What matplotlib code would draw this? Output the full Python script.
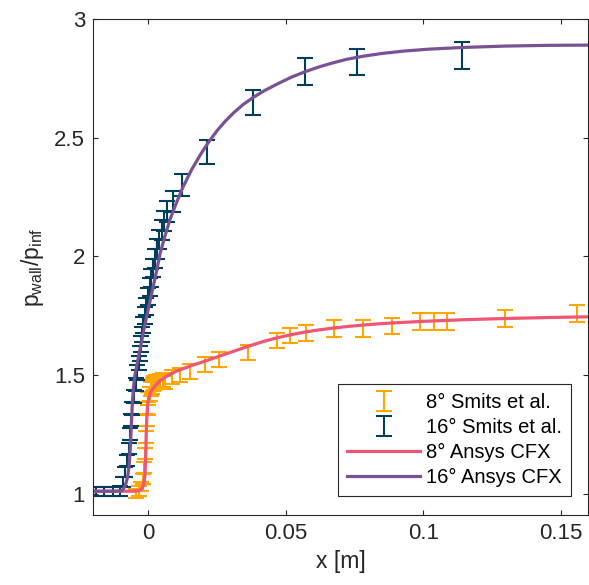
import matplotlib
matplotlib.use("Agg")
import matplotlib.pyplot as plt
from matplotlib.ticker import FormatStrFormatter

plt.rcParams['font.family'] = ['Liberation Sans', 'DejaVu Sans']
plt.rcParams['mathtext.fontset'] = 'custom'
plt.rcParams['mathtext.rm'] = 'Liberation Sans'
plt.rcParams['mathtext.it'] = 'Liberation Sans:italic'

# 8 deg experimental data (Smits et al.)
x8 = [-0.0045, -0.0035, -0.0027, -0.0021, -0.0016, -0.0012, -0.0009, -0.0006, -0.0003, 0.0000,
      0.0004, 0.0008, 0.0012, 0.0017, 0.0022, 0.0028, 0.0035, 0.0043, 0.0052, 0.0060,
      0.0085, 0.0115, 0.0153, 0.0205, 0.0255, 0.0361, 0.0466, 0.0516, 0.0572, 0.0675,
      0.0779, 0.0885, 0.0988, 0.1037, 0.1087, 0.1298, 0.1559]
y8 = [1.000, 1.010, 1.030, 1.060, 1.110, 1.170, 1.240, 1.310, 1.360, 1.400,
      1.420, 1.440, 1.450, 1.460, 1.465, 1.470, 1.470, 1.475, 1.480, 1.468,
      1.490, 1.500, 1.515, 1.545, 1.565, 1.595, 1.645, 1.667, 1.677, 1.696,
      1.696, 1.707, 1.726, 1.726, 1.726, 1.737, 1.759]
e8 = [0.020, 0.020, 0.021, 0.021, 0.022, 0.023, 0.025, 0.026, 0.027, 0.028,
      0.028, 0.029, 0.029, 0.029, 0.029, 0.029, 0.029, 0.030, 0.030, 0.029,
      0.030, 0.030, 0.030, 0.031, 0.031, 0.032, 0.033, 0.033, 0.034, 0.034,
      0.034, 0.034, 0.035, 0.035, 0.035, 0.035, 0.035]

# 16 deg experimental data (Smits et al.)
x16 = [-0.0190, -0.0160, -0.0130, -0.0105, -0.0092, -0.0085, -0.0078, -0.0071, -0.0066, -0.0062,
       -0.0058, -0.0052, -0.0046, -0.0040, -0.0035, -0.0030, -0.0026, -0.0022, -0.0018, -0.0013,
       -0.0008, -0.0002, 0.0004, 0.0010, 0.0017, 0.0024, 0.0031, 0.0039, 0.0048, 0.0058,
       0.0069, 0.0091, 0.0121, 0.0213, 0.0379, 0.0569, 0.0760, 0.1141]
y16 = [1.008, 1.008, 1.008, 1.010, 1.050, 1.090, 1.140, 1.190, 1.250, 1.310,
       1.360, 1.410, 1.460, 1.510, 1.550, 1.590, 1.630, 1.670, 1.710, 1.750,
       1.790, 1.830, 1.870, 1.910, 1.950, 1.990, 2.030, 2.070, 2.110, 2.150,
       2.190, 2.230, 2.300, 2.440, 2.648, 2.778, 2.819, 2.848]
e16 = [0.020, 0.020, 0.020, 0.020, 0.021, 0.022, 0.023, 0.024, 0.025, 0.026,
       0.027, 0.028, 0.029, 0.030, 0.031, 0.032, 0.033, 0.033, 0.034, 0.035,
       0.036, 0.037, 0.037, 0.038, 0.039, 0.040, 0.041, 0.041, 0.042, 0.043,
       0.044, 0.045, 0.046, 0.049, 0.053, 0.056, 0.056, 0.057]

# CFD results (Ansys CFX)
x8c = [-0.020, -0.006, -0.0035, -0.0025, -0.0018, -0.0013, -0.0010, -0.0008, -0.0006, -0.0003,
       0.0001, 0.0007, 0.0015, 0.0025, 0.0044, 0.0070, 0.0100, 0.0153, 0.0205, 0.0255,
       0.0310, 0.0361, 0.0415, 0.0466, 0.0520, 0.0570, 0.0620, 0.0675, 0.0730, 0.0779,
       0.0830, 0.0885, 0.1000, 0.1150, 0.1300, 0.1450, 0.1600]
y8c = [1.010, 1.010, 1.012, 1.018, 1.035, 1.070, 1.150, 1.250, 1.320, 1.370,
       1.400, 1.425, 1.440, 1.455, 1.478, 1.497, 1.515, 1.538, 1.558, 1.578,
       1.600, 1.620, 1.640, 1.656, 1.670, 1.681, 1.690, 1.698, 1.705, 1.710,
       1.715, 1.719, 1.726, 1.733, 1.738, 1.742, 1.745]

x16c = [-0.020, -0.012, -0.0098, -0.0092, -0.0086, -0.0080, -0.0075, -0.0070, -0.0066, -0.0062,
        -0.0058, -0.0054, -0.0049, -0.0043, -0.0030, -0.0015, 0.0000, 0.0015, 0.0030, 0.0042,
        0.0060, 0.0080, 0.0100, 0.0125, 0.0157, 0.0190, 0.0218, 0.0250, 0.0280, 0.0310,
        0.0345, 0.0379, 0.0420, 0.0470, 0.0520, 0.0570, 0.0620, 0.0670, 0.0720, 0.0780,
        0.0850, 0.0930, 0.1020, 0.1140, 0.1300, 0.1450, 0.1600]
y16c = [1.010, 1.010, 1.012, 1.018, 1.030, 1.050, 1.075, 1.120, 1.190, 1.290,
        1.390, 1.450, 1.500, 1.535, 1.610, 1.700, 1.780, 1.860, 1.940, 2.010,
        2.085, 2.160, 2.220, 2.290, 2.365, 2.430, 2.480, 2.530, 2.570, 2.605,
        2.640, 2.668, 2.697, 2.727, 2.755, 2.778, 2.798, 2.815, 2.830, 2.843,
        2.855, 2.865, 2.873, 2.880, 2.886, 2.889, 2.890]

labels = ['8° Smits et al.', '16° Smits et al.', '8° Ansys CFX', '16° Ansys CFX']
c_or, c_bl, c_pk, c_pu = '#ffa600', '#003f5c', '#ef5675', '#7a5195'

fig = plt.figure(figsize=(5.89, 5.85), dpi=100)
ax = fig.add_axes([0.1586, 0.1197, 0.8404, 0.8478])

h1 = ax.errorbar(x8, y8, yerr=e8, fmt='none', ecolor=c_or, elinewidth=1.5,
                 capsize=5.5, capthick=1.5, label=labels[0])
h2 = ax.errorbar(x16, y16, yerr=e16, fmt='none', ecolor=c_bl, elinewidth=1.5,
                 capsize=5.5, capthick=1.5, label=labels[1])
h3, = ax.plot(x8c, y8c, color=c_pk, lw=2.3, label=labels[2], solid_joinstyle='round')
h4, = ax.plot(x16c, y16c, color=c_pu, lw=2.3, label=labels[3], solid_joinstyle='round')

ax.set_xlim(-0.02, 0.16)
ax.set_ylim(0.91, 3.0)
ax.set_xticks([0, 0.05, 0.1, 0.15])
ax.set_yticks([1, 1.5, 2, 2.5, 3])
ax.xaxis.set_major_formatter(FormatStrFormatter('%g'))
ax.yaxis.set_major_formatter(FormatStrFormatter('%g'))
ax.tick_params(direction='in', top=True, right=True, length=3.5, width=0.8,
               labelsize=16, colors='#262626', labelcolor='#262626', pad=6)
for s in ax.spines.values():
    s.set_color('#262626')
    s.set_linewidth(0.8)

ax.set_xlabel('x [m]', fontsize=16.5, color='#262626', labelpad=4)
ax.set_ylabel(r'p$_{\mathrm{wall}}$/p$_{\mathrm{inf}}$', fontsize=16.5, color='#262626', labelpad=6)

leg = ax.legend([h1, h2, h3, h4], labels, loc='lower right', bbox_to_anchor=(0.965, 0.038),
                fontsize=14.5, frameon=True, fancybox=False, edgecolor='#262626', framealpha=1,
                handlelength=3.6, handletextpad=0.3, labelspacing=0.3, borderpad=0.45,
                borderaxespad=0)
leg.get_frame().set_linewidth(0.8)

fig.savefig('out.png', dpi=100)
